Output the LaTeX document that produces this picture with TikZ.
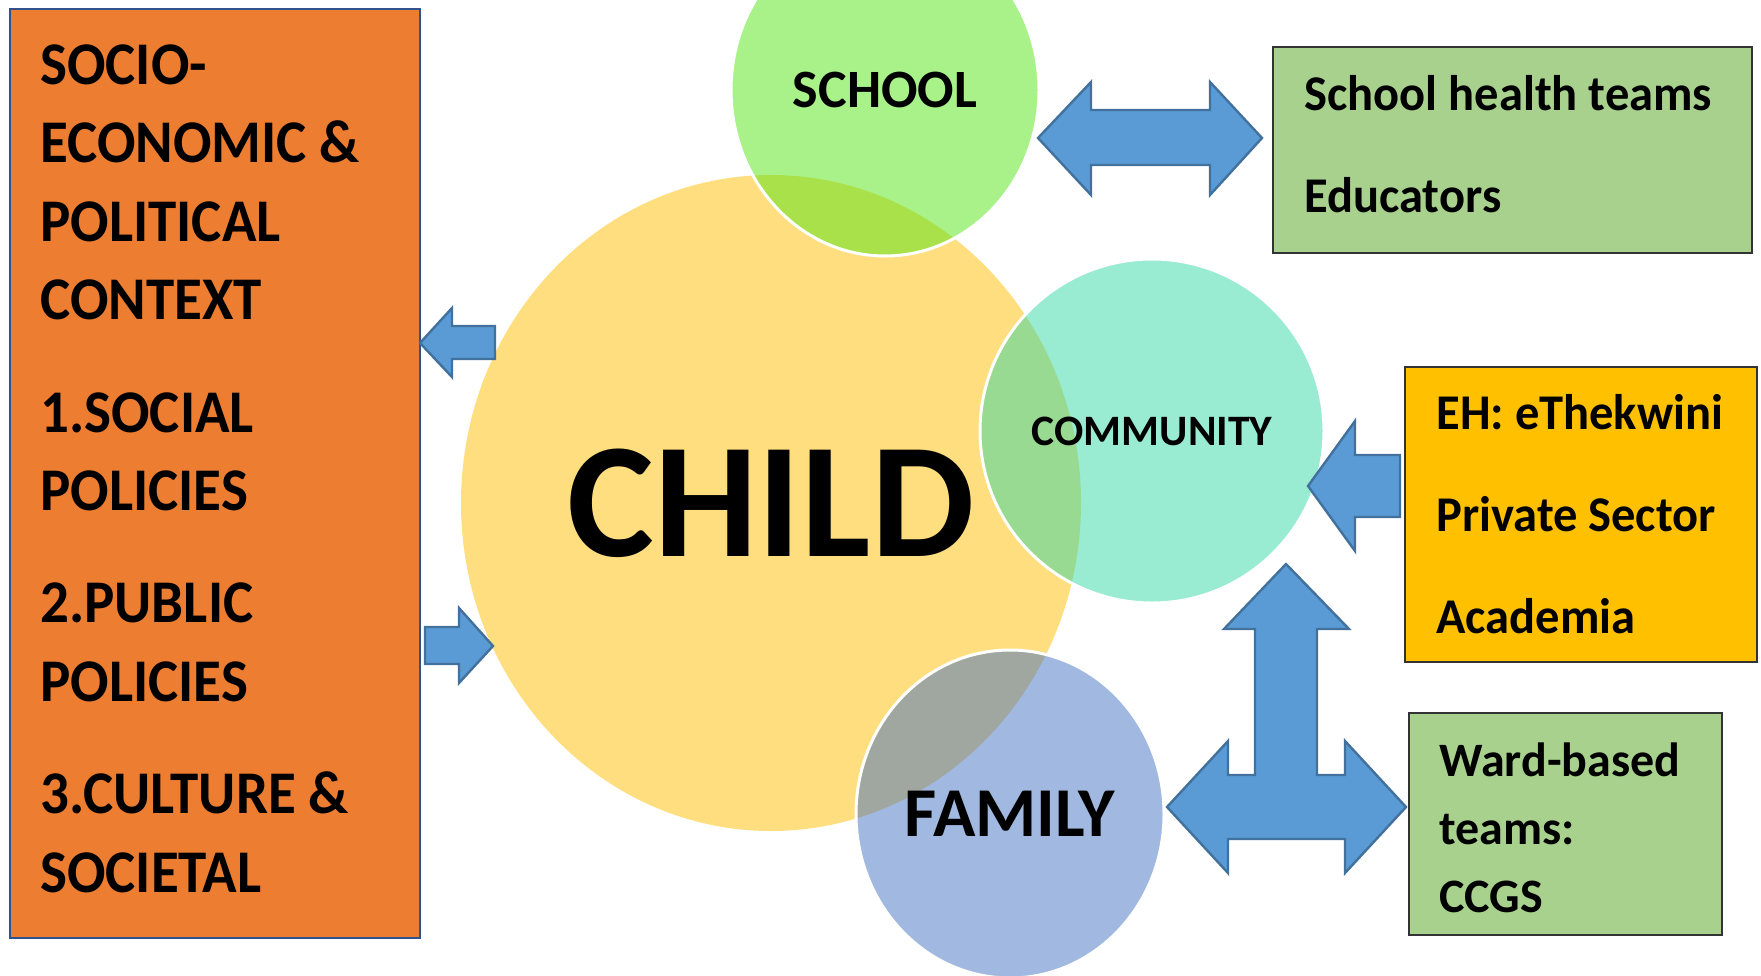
\documentclass[tikz,border=0pt]{standalone}
\usepackage{fontspec}
\setmainfont{Carlito}
\usepackage{tikz}
\usetikzlibrary{shapes,positioning}
\usepackage{xcolor}
\definecolor{ctxorange}{RGB}{237,125,49}
\definecolor{ctxedge}{RGB}{47,82,143}
\definecolor{childyellow}{RGB}{255,222,128}
\definecolor{schoolgreen}{RGB}{83,229,21}
\definecolor{commteal}{RGB}{51,215,165}
\definecolor{familyblue}{RGB}{67,113,193}
\definecolor{boxgreen}{RGB}{169,209,142}
\definecolor{boxgold}{RGB}{255,192,0}
\definecolor{arrowblue}{RGB}{91,155,213}
\definecolor{arrowedge}{RGB}{65,113,156}
\tikzstyle{blockarrow} = [fill=arrowblue, draw=arrowedge, line width=1.2pt, line join=miter]
\tikzstyle{sphere} = [ellipse, inner sep=0pt, draw=white, line width=1.5pt, fill opacity=0.5, draw opacity=1, text opacity=1, font=\bfseries]
\tikzstyle{panel} = [rectangle, anchor=north west, inner sep=0pt, line width=1pt]
\tikzstyle{paneltext} = [anchor=base west, align=left, inner sep=0pt, font=\bfseries, transform shape]

\begin{document}
\begin{tikzpicture}[x=0.5pt, y=-0.5pt]
\clip (0,0) rectangle (1761,975);
% context panel (text anchored at its last baseline)
\node[panel, fill=ctxorange, draw=ctxedge, minimum width=205pt, minimum height=464.5pt] (context) at (9,8) {};
\node[paneltext, xscale=0.94, font=\bfseries\fontsize{30.3}{39.2}\selectfont] (contexttxt) at (40,892) {
SOCIO-\\ECONOMIC \&\\POLITICAL\\CONTEXT\\[17pt]
1.SOCIAL\\POLICIES\\[17pt]
2.PUBLIC\\POLICIES\\[17pt]
3.CULTURE \&\\SOCIETAL};

% circles
\node[ellipse, inner sep=0pt, fill=childyellow, minimum width=310pt, minimum height=328pt, font=\bfseries\fontsize{82}{90}\selectfont] (child) at (771,503) {CHILD};
\node[sphere, fill=schoolgreen, minimum width=154pt, minimum height=166pt, font=\bfseries\fontsize{27}{30}\selectfont] (school) at (885,90) {SCHOOL};
\node[sphere, fill=commteal, minimum width=172pt, minimum height=172pt, font=\bfseries\fontsize{21.7}{24}\selectfont] (comm) at (1152,431) {COMMUNITY};
\node[sphere, fill=familyblue, minimum width=154pt, minimum height=164pt, font=\bfseries\fontsize{35}{40}\selectfont] (family) at (1010,814) {FAMILY};

% partner panels
\node[panel, fill=boxgreen, draw=black!80, minimum width=239.5pt, minimum height=103pt] (health) at (1272,46) {};
\node[paneltext, xscale=0.97, font=\bfseries\fontsize{25}{51}\selectfont] (healthtxt) at (1304,212) {School health teams\\Educators};

\node[panel, fill=boxgold, draw=black!80, minimum width=176pt, minimum height=147.5pt] (sector) at (1404,366) {};
\node[paneltext, xscale=0.97, font=\bfseries\fontsize{25}{50.8}\selectfont] (sectortxt) at (1436,633) {EH: eThekwini\\Private Sector\\Academia};

\node[panel, fill=boxgreen, draw=black!80, minimum width=156.5pt, minimum height=111pt] (ward) at (1408,712) {};
\node[paneltext, font=\bfseries\fontsize{24}{34}\selectfont] (wardtxt) at (1439,912) {Ward-based\\teams:\\CCGS};

% block arrows
\draw[blockarrow] (420,343) -- (452,308) -- (452,326) -- (495,326) -- (495,359) -- (452,359) -- (452,377) -- cycle;
\draw[blockarrow] (425,627) -- (459,627) -- (459,608) -- (493,646) -- (459,683) -- (459,664) -- (425,664) -- cycle;
\draw[blockarrow] (1038,138) -- (1091,82) -- (1091,110) -- (1210,110) -- (1210,82) -- (1262,138) -- (1210,195) -- (1210,165) -- (1091,165) -- (1091,195) -- cycle;
\draw[blockarrow] (1308,486) -- (1355,421) -- (1355,455) -- (1400,455) -- (1400,517) -- (1355,517) -- (1355,551) -- cycle;
\draw[blockarrow] (1286,564) -- (1349,629) -- (1317,629) -- (1317,775) -- (1345,775) -- (1345,741) -- (1406,807) -- (1345,873) -- (1345,839) -- (1228,839) -- (1228,873) -- (1167,807) -- (1228,741) -- (1228,775) -- (1255,775) -- (1255,629) -- (1224,629) -- cycle;
\end{tikzpicture}
\end{document}
